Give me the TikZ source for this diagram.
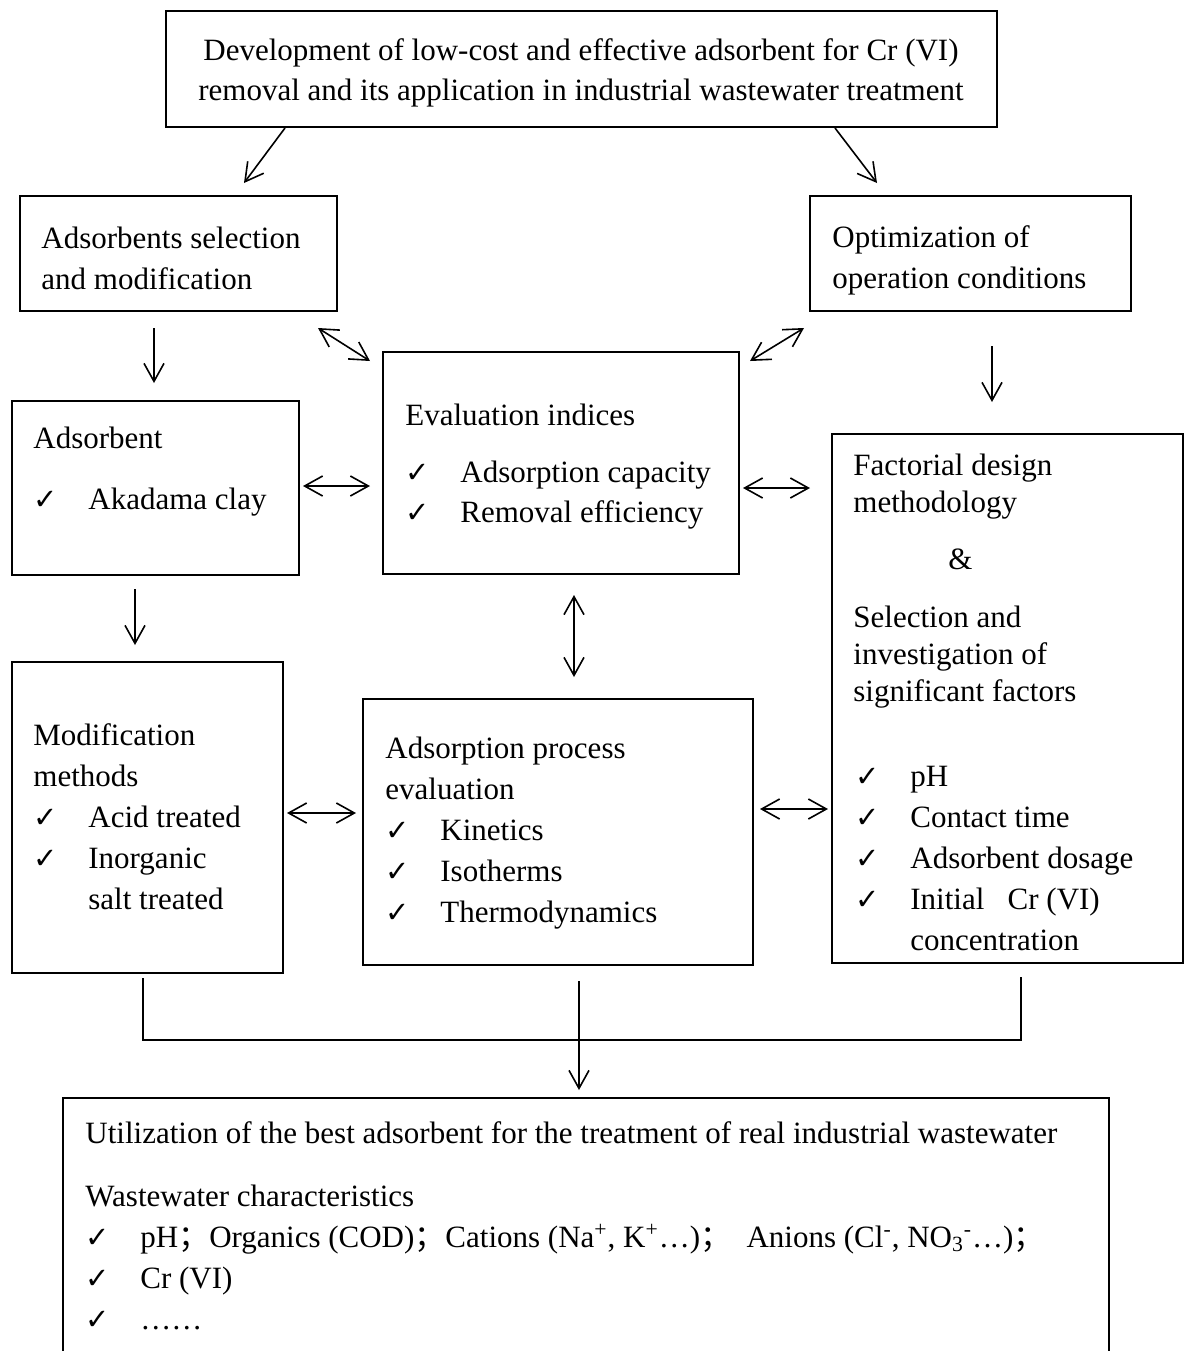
\documentclass[tikz,border=0pt]{standalone}
\usepackage{fontspec}
\setmainfont{Liberation Serif}
\newfontfamily\symfont{DejaVu Sans}
\newfontfamily\cjkfont{Noto Sans CJK SC}
\usetikzlibrary{arrows.meta,calc,fit}

\newcommand{\tickmark}{\makebox[27.5pt][l]{\symfont\fontsize{14.5pt}{14.5pt}\selectfont ✓}}
\newcommand{\semi}{{\cjkfont ；}}
\newcommand{\boxlines}[2][\raggedright]{\parbox[t]{520pt}{#1#2}}

\begin{document}
\begin{tikzpicture}[x=0.5pt,y=0.5pt,yscale=-1,
  panel/.style={draw, line width=1.1pt, inner sep=0, outer sep=0},
  txt/.style={inner sep=0, anchor=base west, font=\fontsize{15.5pt}{20.5pt}\selectfont},
  arr/.style={-{Straight Barb[length=9pt,width=10pt]}, line width=0.8pt},
  dbl/.style={{Straight Barb[length=9pt,width=10pt]}-{Straight Barb[length=9pt,width=10pt]}, line width=0.8pt}]
\useasboundingbox (0,0) rectangle (1185,1351);
\clip (0,0) rectangle (1185,1351);

% Boxes
\node[panel, fit={(166,11) (997,127)}] (goal) {};
\node[panel, fit={(20,196) (337,311)}] (sel) {};
\node[panel, fit={(810,196) (1131,311)}] (opt) {};
\node[panel, fit={(12,401) (299,575)}] (ads) {};
\node[panel, fit={(383,352) (739,574)}] (eval) {};
\node[panel, fit={(832,434) (1183,963)}] (fact) {};
\node[panel, fit={(12,662) (283,973)}] (mod) {};
\node[panel, fit={(363,699) (753,965)}] (proc) {};
\node[panel, fit={(63,1098) (1109,1420)}] (use) {};

% Text Nodes
\node[txt, anchor=base] (goaltxt) at (581,60) {\boxlines[\centering]{Development of low-cost and effective adsorbent for Cr (VI)\\[-0.5pt]removal and its application in industrial wastewater treatment}};
\node[txt] (seltxt) at (41,248) {\boxlines{Adsorbents selection\\and modification}};
\node[txt] (opttxt) at (832,247) {\boxlines{Optimization of\\operation conditions}};
\node[txt] (adstxt) at (33,448) {\boxlines{Adsorbent\\[10pt]\tickmark Akadama clay}};
\node[txt] (evaltxt) at (405,425) {\boxlines{Evaluation indices\\[8pt]\tickmark Adsorption capacity\\[-0.5pt]\tickmark Removal efficiency}};
\node[txt] (facttxt) at (853,475) {\boxlines{Factorial design\\[-2pt]methodology}};
\node[txt] (amp) at (948,569) {\&};
\node[txt] (sigtxt) at (853,627) {\boxlines{Selection and\\[-2pt]investigation of\\[-2pt]significant factors}};
\node[txt] (factlist) at (855,786) {\boxlines{\tickmark pH\\\tickmark Contact time\\\tickmark Adsorbent dosage\\\tickmark Initial~~~Cr (VI)\\\hspace*{27.5pt}concentration}};
\node[txt] (modtxt) at (33,745) {\boxlines{Modification\\methods\\\tickmark Acid treated\\\tickmark Inorganic\\\hspace*{27.5pt}salt treated}};
\node[txt] (proctxt) at (385,758) {\boxlines{Adsorption process\\evaluation\\\tickmark Kinetics\\\tickmark Isotherms\\\tickmark Thermodynamics}};
\node[txt] (usetxt) at (85,1143) {\boxlines{Utilization of the best adsorbent for the treatment of real industrial wastewater\\[11pt]Wastewater characteristics\\\tickmark pH\semi Organics (COD)\semi Cations (Na\textsuperscript{+}, K\textsuperscript{+}…)\semi~~Anions (Cl\textsuperscript{-}, NO\textsubscript{3}\textsuperscript{-}…)\semi\\\tickmark Cr (VI)\\\tickmark ……}};

% Arrows
\draw[arr] ($(goal.south west)+(119,1)$) -- ($(sel.north west)+(224,-13)$);
\draw[arr] ($(goal.south west)+(669,1)$) -- ($(opt.north west)+(67,-13)$);
\draw[arr] ($(sel.south west)+(134,17)$) -- ($(ads.north west)+(142,-18)$);
\draw[arr] ($(opt.south west)+(182,35)$) -- ($(fact.north west)+(160,-32)$);
\draw[dbl] ($(sel.south east)+(-19,17)$) -- ($(eval.north west)+(-13,9)$);
\draw[dbl] ($(eval.north east)+(11,9)$) -- ($(opt.south west)+(-6,17)$);
\draw[dbl] ($(ads.east)+(4,-2)$) -- ($(eval.west)+(-13,23)$);
\draw[dbl] ($(eval.east)+(4,25)$) -- ($(fact.north west)+(-22,54)$);
\draw[dbl] ($(eval.south west)+(191,21)$) -- ($(proc.north west)+(211,-22)$);
\draw[arr] ($(ads.south west)+(123,14)$) -- ($(mod.north west)+(123,-17)$);
\draw[dbl] ($(mod.north east)+(4,151)$) -- ($(proc.north west)+(-7,114)$);
\draw[dbl] ($(proc.north east)+(7,110)$) -- ($(fact.north west)+(-4,375)$);

% Bracket to the last box
\draw[line width=0.9pt] ($(mod.south west)+(131,5)$) |- ($(fact.south west)+(189,77)$) -- ($(fact.south west)+(189,14)$);
\draw[arr] ($(proc.south west)+(216,16)$) -- ($(use.north west)+(516,-8)$);

\end{tikzpicture}
\end{document}
